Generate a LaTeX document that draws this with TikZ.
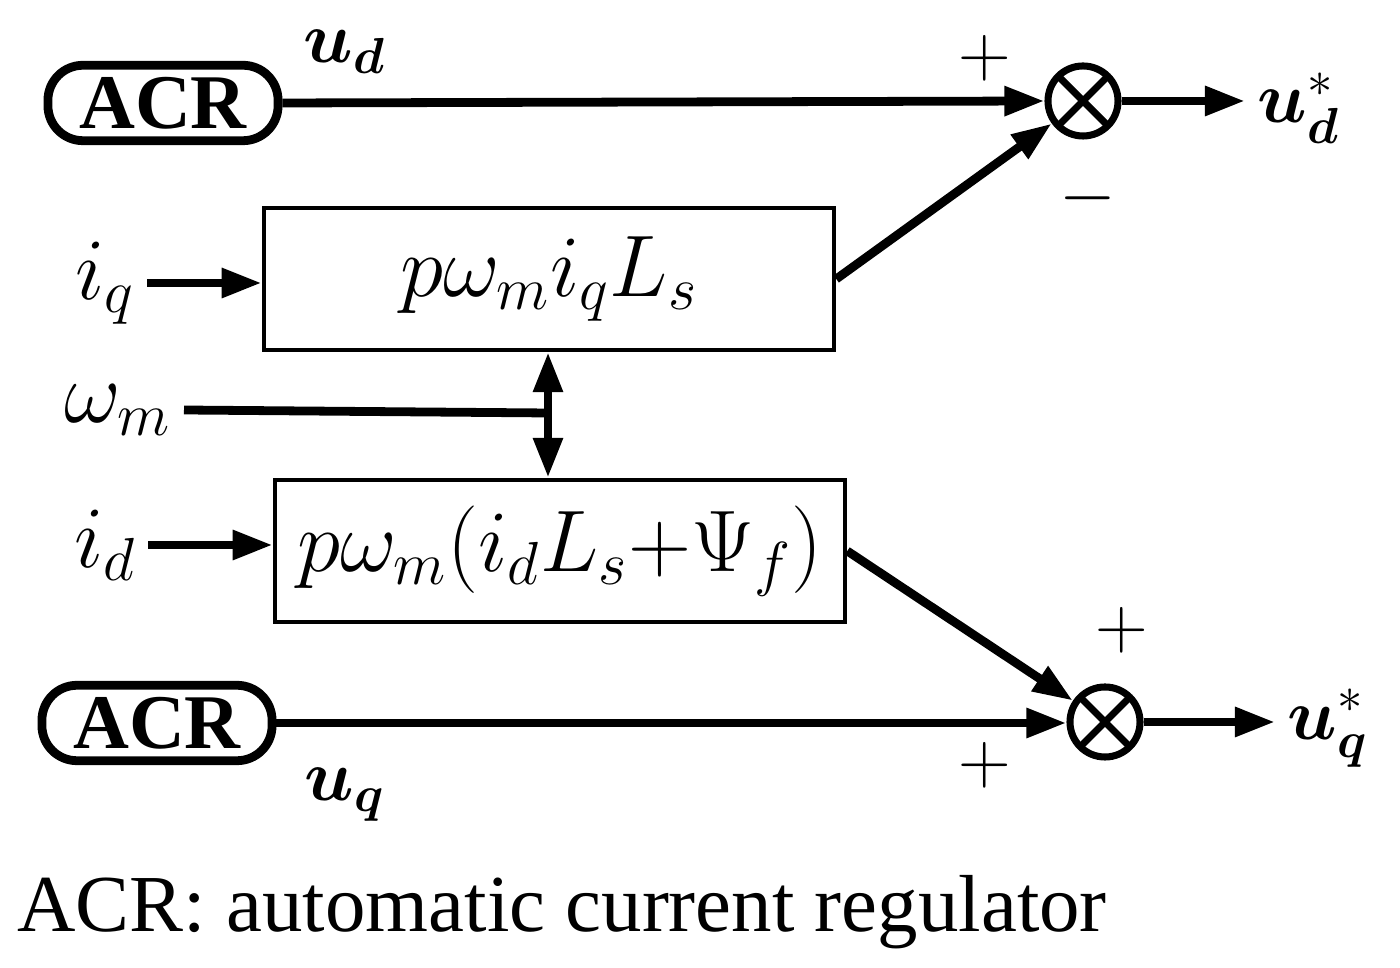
\documentclass[tikz,border=0pt]{standalone}
\usepackage{amsmath}
\usepackage{bm}
\usepackage{fontspec}
\setmainfont{Liberation Serif}
\usetikzlibrary{arrows.meta}
\tikzset{
  blk/.style={draw,line width=1.2pt,minimum width=5.7cm,minimum height=1.42cm},
  acr/.style={draw,line width=2.5pt,rounded corners=0.35cm,minimum width=2.3cm,minimum height=0.72cm,font=\fontsize{22}{24}\selectfont\bfseries},
  sum/.style={draw,circle,line width=2pt,minimum size=0.7cm,inner sep=0pt,path picture={
    \draw[line width=2pt] (path picture bounding box.north west)--(path picture bounding box.south east)
      (path picture bounding box.north east)--(path picture bounding box.south west);}},
  sig/.style={line width=2.5pt,-{Triangle[length=0.4cm,width=0.28cm]}},
  lbl/.style={font=\fontsize{22}{24}\selectfont},
  big/.style={font=\fontsize{26}{28}\selectfont}
}
\begin{document}
\begin{tikzpicture}[x=0.01cm,y=-0.01cm]
\useasboundingbox (0,0) rectangle (1400,968);
% blocks
\node[acr] (acrd) at (163,103) {ACR};
\node[acr] (acrq) at (157,723) {ACR};
\node[blk,big] (fq) at (549,279) {$p\omega_m i_q L_s$};
\node[blk,big] (fd) at (560,551) {$p\omega_m(i_d L_s{+}\Psi_f)$};
\node[sum] (sd) at (1083,101) {};
\node[sum] (sq) at (1105,722) {};
% inputs and outputs
\node[big] (iq) at (105,283) {$i_q$};
\node[big] (id) at (105,545) {$i_d$};
\node[big] (wm) at (118,410) {$\omega_m$};
\node[lbl,anchor=west] (ud) at (1245,108) {$\bm{u_d}^{*}$};
\node[lbl,anchor=west] (uq) at (1275,728) {$\bm{u_q}^{*}$};
\node[lbl] at (345,52) {$\bm{u_d}$};
\node[lbl] at (345,795) {$\bm{u_q}$};
\node[lbl] at (985,58) {$+$};
\node[lbl] at (1088,198) {$-$};
\node[lbl] at (1122,630) {$+$};
\node[lbl] at (985,765) {$+$};
\coordinate (wj) at (548,413);
% connectors
\draw[sig] (acrd.east) -- (sd.west);
\draw[sig] (acrq.east) -- (acrq.east-|sq.west);
\draw[sig] (sd.east) -- (sd.east-|ud.west);
\draw[sig] (sq.east) -- (sq.east-|uq.west);
\draw[sig] (iq.east) -- (fq.west|-iq.east);
\draw[sig] (id.east) -- (fd.west|-id.east);
\draw[sig] (fq.east) -- (sd);
\draw[sig] (fd.east) -- (sq);
\draw[line width=2.5pt] (wm.east) -- (wj);
\draw[line width=2.5pt,{Triangle[length=0.4cm,width=0.28cm]}-{Triangle[length=0.4cm,width=0.28cm]}] (fq.south-|wj) -- (fd.north-|wj);
\node[font=\fontsize{23}{25}\selectfont,anchor=west] (cap) at (5,912) {ACR: automatic current regulator};
\end{tikzpicture}
\end{document}
